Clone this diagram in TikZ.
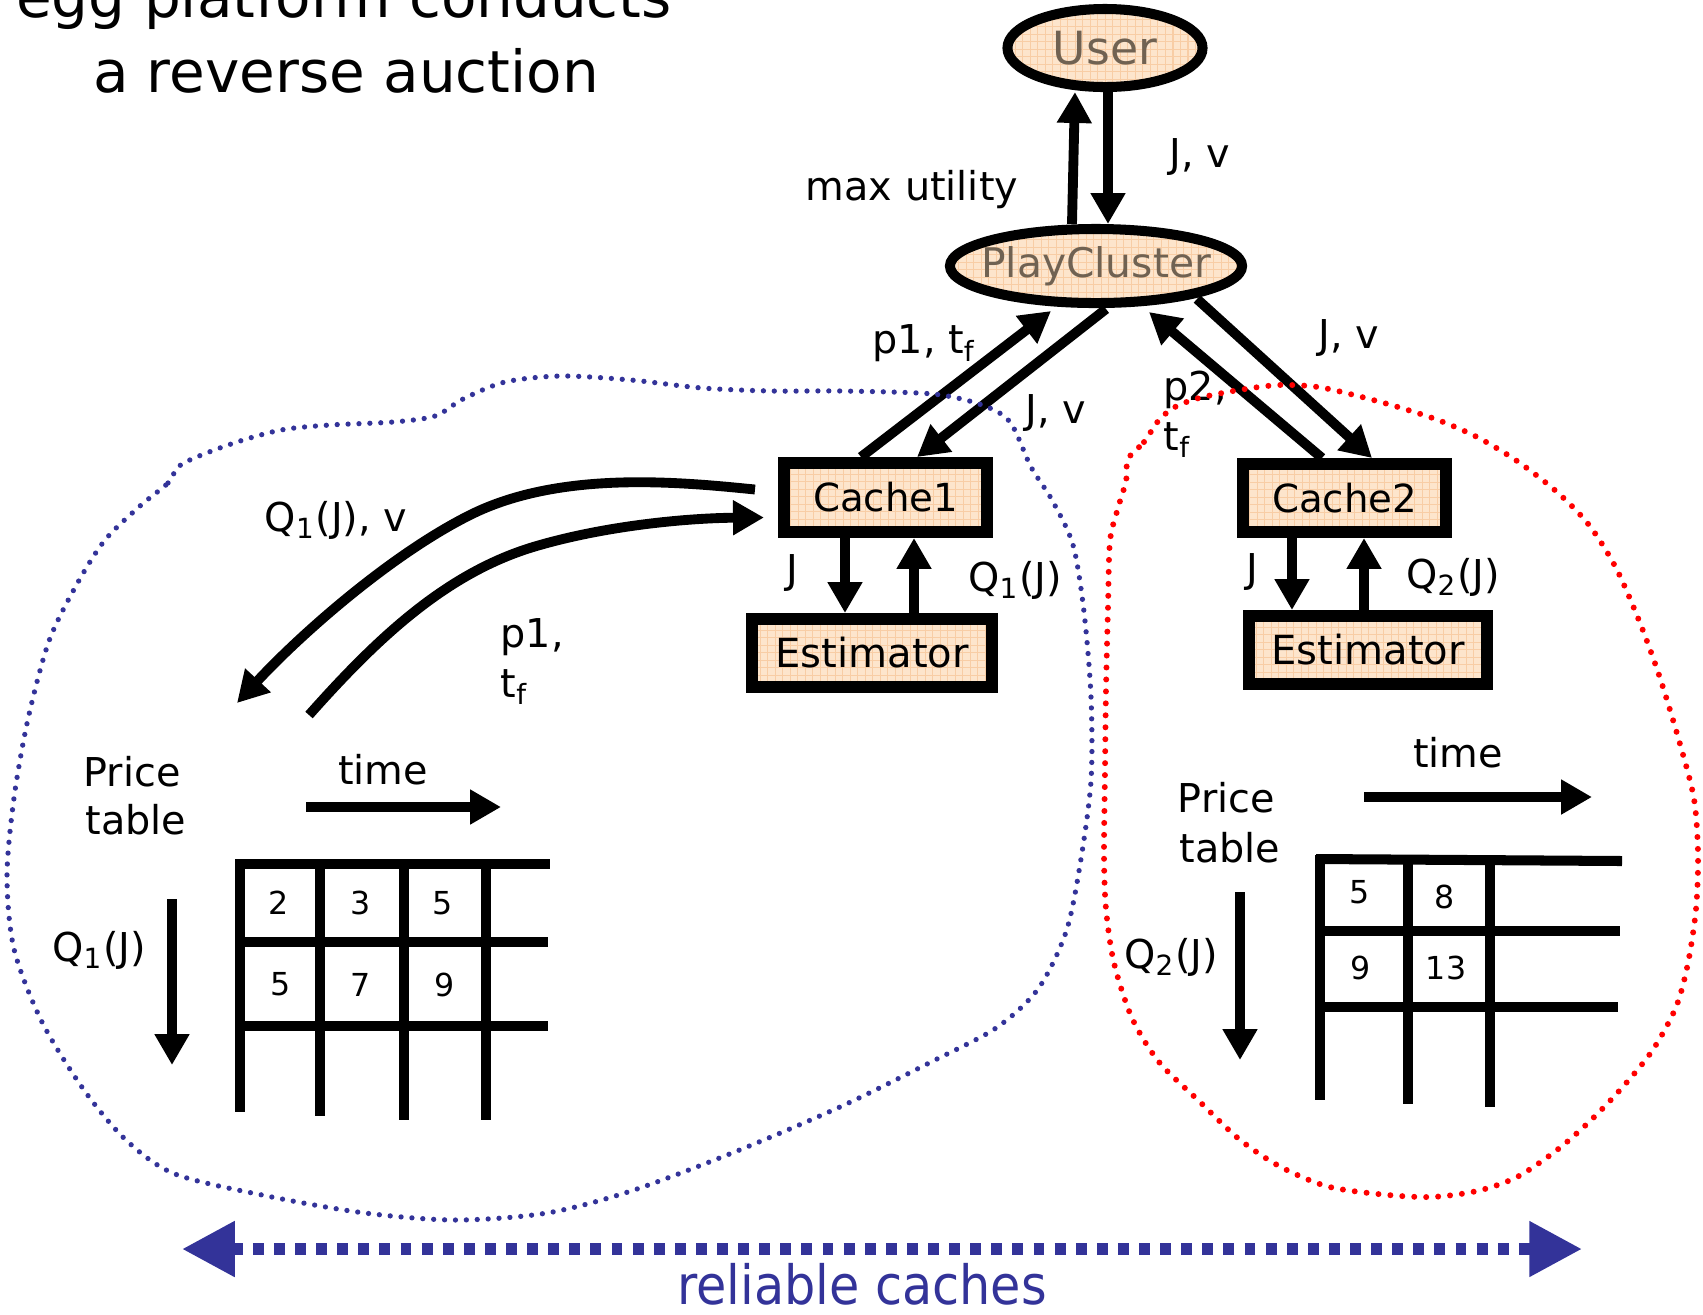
\documentclass[tikz,border=0pt]{standalone}
\usepackage{graphicx}
\usepackage{fontspec}
\setmainfont{DejaVu Sans}
\usetikzlibrary{arrows.meta,shapes.geometric,calc}
\definecolor{peach}{RGB}{253,229,204}
\definecolor{gridor}{RGB}{248,205,165}
\definecolor{cblue}{RGB}{51,51,153}
\definecolor{cred}{RGB}{255,0,0}
\definecolor{utext}{RGB}{112,98,82}
\newcommand\myfs[1]{\fontsize{#1}{#1}\selectfont}
\begin{document}
\begin{tikzpicture}[x=0.01cm,y=-0.01cm,
  gridfill/.style={path picture={\draw[gridor, line width=0.3pt] (path picture bounding box.south west) grid[step=0.075cm] (path picture bounding box.north east);}},
  ell/.style={ellipse, draw, line width=2.85pt, fill=peach, inner xsep=-0.4cm, inner ysep=-0.1cm, text=utext, gridfill},
  cbox/.style={rectangle, draw, line width=3.4pt, fill=peach, inner sep=0pt, gridfill, font={\myfs{11pt}}},
  arr/.style={line width=2.8pt, -{Triangle[length=8.8pt,width=9.4pt]}},
  lbl/.style={inner sep=0pt, font={\myfs{11.3pt}}},
  tline/.style={line width=2.85pt},
  num/.style={inner sep=0pt, font={\myfs{9pt}}},
  bluedots/.style={cblue, line width=1.5pt, dash pattern=on 0pt off 3.1pt, line cap=round},
  reddots/.style={cred, line width=1.7pt, dash pattern=on 0pt off 3.4pt, line cap=round},
  bigarr/.style={cblue, line width=3.4pt, dash pattern=on 3.1pt off 2.9pt, {Triangle[length=15pt,width=15pt]}-{Triangle[length=15pt,width=15pt]}},
]
\useasboundingbox (0,0) rectangle (1703,1314);

% title
\node[anchor=base, inner sep=0pt, font={\myfs{16.5pt}}] (t1) at (344,17) {egg platform conducts};
\node[anchor=base, inner sep=0pt, font={\myfs{16.5pt}}] (t2) at (346,92) {a reverse auction};

% main nodes
\node[ell, minimum width=1.95cm, minimum height=0.78cm, font={\myfs{13pt}}] (user) at (1105,48) {User};
\node[ell, minimum width=2.92cm, minimum height=0.74cm, font={\myfs{11.6pt}}] (play) at (1096,266) {PlayCluster};
\node[cbox, minimum width=2.03cm, minimum height=0.69cm] (cache1) at (885.5,497.5) {Cache1};
\node[cbox, minimum width=2.40cm, minimum height=0.68cm, font={\myfs{11.4pt}}] (est1) at (872,653) {Estimator};
\node[cbox, minimum width=2.03cm, minimum height=0.68cm] (cache2) at (1344.5,498) {Cache2};
\node[cbox, minimum width=2.38cm, minimum height=0.68cm, font={\myfs{11.4pt}}] (est2) at (1368,650) {Estimator};

% user <-> playcluster
\draw[arr] ([xshift=-0.24cm]play.north) -- ([xshift=-0.30cm]user.south);
\draw[arr] ([xshift=0.03cm]user.south) -- ([xshift=0.12cm]play.north);

% playcluster <-> caches
\draw[arr] ([xshift=-0.245cm]cache1.north) -- ($(play)+(-45,45)$);
\draw[arr] ($(play)+(10,43)$) -- ([xshift=0.315cm]cache1.north);
\draw[arr] ([xshift=-0.225cm]cache2.north) -- ($(play)+(53,46)$);
\draw[arr] ($(play)+(101,33)$) -- ([xshift=0.275cm]cache2.north);

% cache <-> estimator
\draw[arr] ([xshift=-0.405cm]cache1.south) -- ([xshift=-0.405cm]cache1.south |- est1.north);
\draw[arr] ([xshift=0.285cm]cache1.south |- est1.north) -- ([xshift=0.285cm]cache1.south);
\draw[arr] ([xshift=-0.525cm]cache2.south) -- ([xshift=-0.525cm]cache2.south |- est2.north);
\draw[arr] ([xshift=0.195cm]cache2.south |- est2.north) -- ([xshift=0.195cm]cache2.south);

% curved arrows to price table
\coordinate (q1tip) at (237,703);
\coordinate (p1tail) at (309,715);
\draw[arr] ($(cache1.west)+(-23,-8)$) .. controls (680,482) and (560,470) .. (470,515) .. controls (390,555) and (300,635) .. (q1tip);
\draw[arr] (p1tail) .. controls (380,635) and (450,570) .. (540,545) .. controls (610,525) and (690,518) .. ($(cache1.west)+(-14,20)$);

% labels
\node[lbl] (maxu) at (912,190) {max utility};
\node[lbl] (jv0) at (1200,157) {J, v};
\node[lbl] (p1tf) at (924,343) {p1, t\textsubscript{f}};
\node[lbl] (jv1) at (1056,413) {J, v};
\node[lbl] (jv2) at (1349,338) {J, v};
\node[lbl, anchor=west] (p2) at (1163,390) {p2,};
\node[lbl, anchor=west] (tf2) at (1163,440) {t\textsubscript{f}};
\node[lbl] (j1) at (792,573) {J};
\node[lbl] (q1) at (1015,580) {Q\textsubscript{1}(J)};
\node[lbl] (j2) at (1252,572) {J};
\node[lbl] (q2) at (1453,577) {Q\textsubscript{2}(J)};
\node[lbl] (q1v) at (336,520) {Q\textsubscript{1}(J), v};
\node[lbl, anchor=west] (p1b) at (500,637) {p1,};
\node[lbl, anchor=west] (tfb) at (500,687) {t\textsubscript{f}};

% left price table
\node[lbl, anchor=west] (price1) at (83,772) {Price};
\node[lbl, anchor=west] (table1) at (85,820) {table};
\node[lbl] (time1) at (383,770) {time};
\node[lbl] (qt1) at (99,950) {Q\textsubscript{1}(J)};
\coordinate (tA1) at (306,807); \coordinate (tB1) at (501,807);
\draw[arr] (tA1) -- (tB1);
\coordinate (qA1) at (172,899); \coordinate (qB1) at (172,1065);
\draw[arr] (qA1) -- (qB1);
\draw[tline] (237,864) -- (550,864);
\draw[tline] (237,942) -- (548,942);
\draw[tline] (237,1026) -- (548,1026);
\draw[tline] (240,859) -- (240,1112);
\draw[tline] (320,864) -- (320,1116);
\draw[tline] (404,864) -- (404,1120);
\draw[tline] (486,864) -- (486,1120);
\node[num] (n11) at (279,903) {2};
\node[num] (n12) at (361,903) {3};
\node[num] (n13) at (443,903) {5};
\node[num] (n21) at (281,984) {5};
\node[num] (n22) at (361,985) {7};
\node[num] (n23) at (445,985) {9};

% right price table
\node[lbl, anchor=west] (price2) at (1177,798) {Price};
\node[lbl, anchor=west] (table2) at (1179,848) {table};
\node[lbl] (time2) at (1458,753) {time};
\node[lbl] (qt2) at (1171,957) {Q\textsubscript{2}(J)};
\coordinate (tA2) at (1364,797); \coordinate (tB2) at (1592,797);
\draw[arr] (tA2) -- (tB2);
\coordinate (qA2) at (1240,892); \coordinate (qB2) at (1240,1060);
\draw[arr] (qA2) -- (qB2);
\draw[tline] (1316,859) -- (1622,861);
\draw[tline] (1320,931) -- (1620,931);
\draw[tline] (1320,1007) -- (1618,1007);
\draw[tline] (1320,855) -- (1320,1100);
\draw[tline] (1408,860) -- (1408,1104);
\draw[tline] (1490,860) -- (1490,1107);
\node[num] (m11) at (1360,892) {5};
\node[num] (m12) at (1445,897) {8};
\node[num] (m21) at (1361,968) {9};
\node[num] (m22) at (1446,968) {13};

% dotted regions
\draw[bluedots] plot[smooth cycle] coordinates {(140,506) (168,483) (182,464) (231,444) (281,430) (330,425) (393,422) (435,416) (463,399) (505,382) (561,376) (631,380) (702,388) (772,391) (842,391) (933,394) (982,405) (1010,422) (1031,467) (1052,500) (1073,545) (1084,612) (1091,697) (1091,781) (1080,865) (1066,932) (1038,989) (996,1028) (933,1061) (842,1106) (737,1151) (631,1191) (547,1213) (456,1220) (365,1213) (267,1196) (175,1174) (126,1140) (84,1090) (42,1022) (14,949) (7,876) (14,798) (28,719) (49,641) (77,584) (105,540)};
\draw[reddots] plot[smooth cycle] coordinates {(1128,459) (1144,442) (1159,420) (1175,407) (1199,398) (1239,390) (1279,385) (1318,387) (1358,396) (1398,407) (1438,420) (1477,437) (1517,461) (1557,492) (1589,525) (1616,568) (1640,623) (1660,678) (1680,744) (1694,799) (1698,854) (1696,909) (1688,963) (1676,1007) (1652,1051) (1620,1090) (1589,1122) (1557,1150) (1517,1177) (1477,1191) (1430,1197) (1378,1194) (1326,1186) (1279,1166) (1239,1139) (1199,1101) (1159,1062) (1132,1018) (1114,963) (1106,909) (1104,854) (1105,771) (1106,689) (1108,607) (1110,541) (1118,508) (1126,481)};

% reliable caches
\coordinate (bl) at (182,1249); \coordinate (br) at (1582,1249);
\draw[bigarr] (bl) -- (br);
\node[anchor=base, inner sep=0pt, text=cblue, font={\myfs{15.4pt}}] (rel) at (862,1304) {\scalebox{0.91}[1]{reliable caches}};
\end{tikzpicture}
\end{document}
